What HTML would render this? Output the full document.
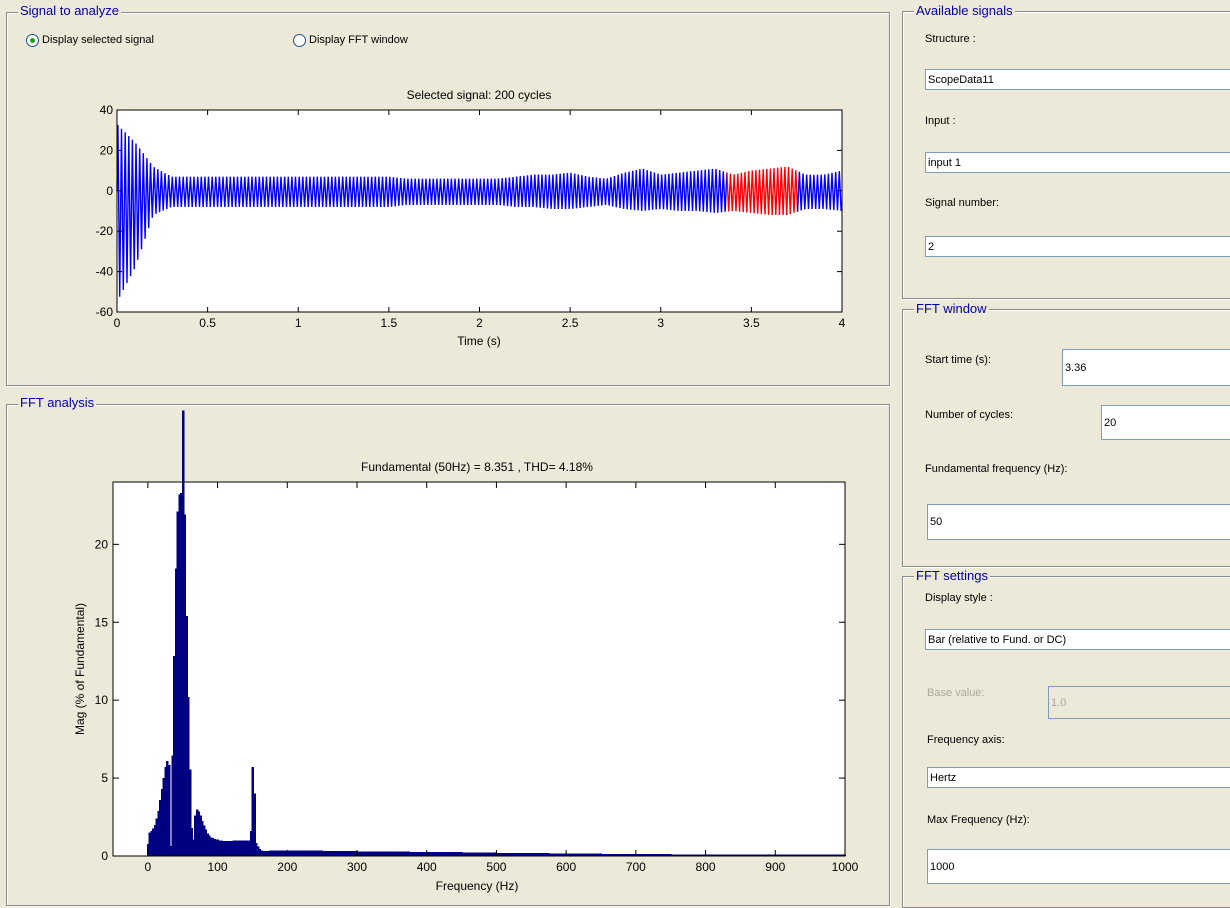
<!DOCTYPE html>
<html><head><meta charset="utf-8"><style>
body{margin:0;width:1230px;height:896px;background:#ECE9D8;position:relative;overflow:hidden;font-family:"Liberation Sans",sans-serif;font-size:11px;color:#000}
.frame{position:absolute;border:1px solid #8a8a8a;box-shadow:1px 1px 0 #fff inset,1px 1px 0 #fff}
.ftitle{position:absolute;background:#ECE9D8;color:#0000A8;font-size:13px;padding:0 2px;line-height:14px}
.lbl{position:absolute;font-size:11px;white-space:nowrap}
.box{position:absolute;background:#fff;border:1px solid #7F9DB9;box-sizing:border-box;font-size:11px;padding-left:2px;display:flex;align-items:center}
.radio{position:absolute;width:11px;height:11px;border:1px solid #1C5180;border-radius:50%;background:#fff}
svg text{font-family:"Liberation Sans",sans-serif}
</style></head><body>
<div class="frame" style="left:6px;top:12px;width:882px;height:372px"></div>
<div class="ftitle" style="left:18px;top:4px">Signal to analyze</div>
<div class="radio" style="left:26px;top:34px"><div style="position:absolute;left:3px;top:3px;width:5px;height:5px;border-radius:50%;background:#21A121"></div></div>
<div class="lbl" style="left:42px;top:34px">Display selected signal</div>
<div class="radio" style="left:293px;top:34px"></div>
<div class="lbl" style="left:309px;top:34px">Display FFT window</div>

<div class="frame" style="left:6px;top:404px;width:882px;height:500px"></div>
<div class="ftitle" style="left:18px;top:396px">FFT analysis</div>

<div class="frame" style="left:902px;top:11px;width:340px;height:286px"></div>
<div class="ftitle" style="left:914px;top:4px">Available signals</div>
<div class="lbl" style="left:925px;top:33px">Structure :</div>
<div class="box" style="left:925px;top:69px;width:320px;height:21px">ScopeData11</div>
<div class="lbl" style="left:925px;top:115px">Input :</div>
<div class="box" style="left:925px;top:152px;width:320px;height:21px">input 1</div>
<div class="lbl" style="left:925px;top:197px">Signal number:</div>
<div class="box" style="left:925px;top:236px;width:320px;height:21px">2</div>

<div class="frame" style="left:902px;top:309px;width:340px;height:256px"></div>
<div class="ftitle" style="left:914px;top:302px">FFT window</div>
<div class="lbl" style="left:925px;top:354px">Start time (s):</div>
<div class="box" style="left:1062px;top:349px;width:180px;height:37px">3.36</div>
<div class="lbl" style="left:925px;top:409px">Number of cycles:</div>
<div class="box" style="left:1101px;top:405px;width:140px;height:35px">20</div>
<div class="lbl" style="left:925px;top:463px">Fundamental frequency (Hz):</div>
<div class="box" style="left:927px;top:504px;width:315px;height:36px">50</div>

<div class="frame" style="left:902px;top:576px;width:340px;height:330px"></div>
<div class="ftitle" style="left:914px;top:569px">FFT settings</div>
<div class="lbl" style="left:925px;top:592px">Display style :</div>
<div class="box" style="left:925px;top:629px;width:320px;height:21px">Bar (relative to Fund. or DC)</div>
<div class="lbl" style="left:927px;top:687px;color:#ACA899">Base value:</div>
<div class="box" style="left:1048px;top:686px;width:190px;height:33px;background:#ECE9D8;color:#ACA899">1.0</div>
<div class="lbl" style="left:927px;top:734px">Frequency axis:</div>
<div class="box" style="left:927px;top:767px;width:315px;height:21px">Hertz</div>
<div class="lbl" style="left:927px;top:814px">Max Frequency (Hz):</div>
<div class="box" style="left:927px;top:849px;width:315px;height:35px">1000</div>

<svg id="plots" width="1230" height="896" style="position:absolute;left:0;top:0"></svg>
<script>
// ---- signal envelope data (every 0.1 s, 0..4 s) ----
const envTimes = [0,0.1,0.2,0.3,0.4,0.5,0.6,0.7,0.8,0.9,1.0,1.1,1.2,1.3,1.4,1.5,1.6,1.7,1.8,1.9,2.0,2.1,2.2,2.3,2.4,2.5,2.6,2.7,2.8,2.9,3.0,3.1,3.2,3.3,3.4,3.5,3.6,3.7,3.8,3.9,4.0];
const envUpper = [33,24,12,7,7,7,7,7,7,7,7,7,7,7,7,7,6,6,6,6,6,6,7,8,8,9,7,6,9,11,8,9,10,11,8,10,11,12,8,8,10];
const envLower = [-55,-38,-12,-8,-8,-8,-8,-8,-8,-8,-8,-8,-8,-8,-8,-8,-7,-7,-7,-7,-7,-7,-8,-8,-9,-9,-8,-7,-9,-10,-9,-10,-10,-11,-10,-11,-12,-12,-9,-9,-10];
const sigCycles = 200, fundHz = 50, winStart = 3.36, winCycles = 20;
const sigXTicks = [0,0.5,1,1.5,2,2.5,3,3.5,4];
const sigYTicks = [40,20,0,-20,-40,-60];
// ---- FFT data: 2.5 Hz bins 0..200 Hz, then 25 Hz tail 200..1000 Hz ----
const fftBinHz = 2.5;
const fftMag = [0.77,1.5,1.6,1.75,2.0,2.4,2.9,3.6,4.3,5.0,5.7,6.1,5.85,0.65,6.45,12.85,18.45,22.1,23.2,23.3,28.6,21.9,15.4,10.2,5.55,1.8,1.05,2.6,3.0,2.85,2.6,2.25,1.95,1.7,1.45,1.3,1.2,1.15,1.1,1.05,1.05,1.0,1.0,0.95,0.95,0.95,0.95,0.95,0.95,1.0,1.0,1.0,1.0,1.0,1.0,1.0,1.0,1.0,1.0,1.6,5.7,4.0,0.85,0.6,0.45,0.35,0.33,0.33,0.33,0.33,0.35,0.35,0.35,0.35,0.35,0.35,0.35,0.35,0.35,0.35];
const tailStartHz = 200, tailStepHz = 25;
const tailMag = [0.35,0.35,0.33,0.32,0.3,0.3,0.28,0.27,0.25,0.25,0.24,0.22,0.2,0.2,0.18,0.17,0.15,0.15,0.14,0.13,0.12,0.12,0.11,0.11,0.1,0.1,0.1,0.1,0.1,0.1,0.1,0.1];
const fftXTicks = [0,100,200,300,400,500,600,700,800,900,1000];
const fftYTicks = [0,5,10,15,20];

const NS='http://www.w3.org/2000/svg', svg=document.getElementById('plots');
function mk(tag,attrs,parent){const e=document.createElementNS(NS,tag);for(const k in attrs)e.setAttribute(k,attrs[k]);(parent||svg).appendChild(e);return e;}

// ---------- signal plot ----------
const S={x0:117,x1:842,y0:110,y1:312,tmin:0,tmax:4,vmin:-60,vmax:40};
const sx=t=>S.x0+(t-S.tmin)/(S.tmax-S.tmin)*(S.x1-S.x0);
const sy=v=>S.y1-(v-S.vmin)/(S.vmax-S.vmin)*(S.y1-S.y0);
const sigBg=mk('rect',{x:S.x0,y:S.y0,width:S.x1-S.x0,height:S.y1-S.y0,fill:'#fff'});


function envAt(arr,t){let i=Math.min(Math.floor(t/0.1),envTimes.length-2);const f=(t-envTimes[i])/0.1;return arr[i]+(arr[i+1]-arr[i])*f;}
let red=[],b1=[],b2=[];
for(let k=0;k<sigCycles;k++){
  const tp=(k+0.25)/fundHz, tn=(k+0.75)/fundHz;
  const p=[sx(tp).toFixed(1)+','+sy(envAt(envUpper,tp)).toFixed(1),sx(tn).toFixed(1)+','+sy(envAt(envLower,tn)).toFixed(1)];
  if(tp<winStart)b1.push(...p);else if(tp<winStart+winCycles/fundHz)red.push(...p);else b2.push(...p);
}
const start=sx(0).toFixed(1)+','+sy(0).toFixed(1);
const l1=mk('polyline',{points:start+' '+b1.join(' ')+' '+red[0],fill:'none',stroke:'#0000FF','stroke-width':1.4});


const l2=mk('polyline',{points:red.join(' '),fill:'none',stroke:'#FF0000','stroke-width':1.4});


const l3=mk('polyline',{points:red[red.length-1]+' '+b2.join(' '),fill:'none',stroke:'#0000FF','stroke-width':1.4});


const sb=mk('rect',{x:S.x0,y:S.y0,width:S.x1-S.x0,height:S.y1-S.y0,fill:'none',stroke:'#000','stroke-width':1});


sigXTicks.forEach(t=>{const x=sx(t);
  mk('line',{x1:x,x2:x,y1:S.y1,y2:S.y1-5,stroke:'#000'});mk('line',{x1:x,x2:x,y1:S.y0,y2:S.y0+5,stroke:'#000'});
  const tx=mk('text',{x:x,y:S.y1+15,'text-anchor':'middle','font-size':12});tx.textContent=String(t);
  
  });
sigYTicks.forEach(v=>{const y=sy(v);
  mk('line',{x1:S.x0,x2:S.x0+5,y1:y,y2:y,stroke:'#000'});mk('line',{x1:S.x1,x2:S.x1-5,y1:y,y2:y,stroke:'#000'});
  const tx=mk('text',{x:S.x0-4,y:y+4,'text-anchor':'end','font-size':12});tx.textContent=String(v);
  
  });
let t1=mk('text',{x:479,y:99,'text-anchor':'middle','font-size':12});t1.textContent='Selected signal: 200 cycles';


let t2=mk('text',{x:479,y:345,'text-anchor':'middle','font-size':12});t2.textContent='Time (s)';



// ---------- FFT plot ----------
const F={x0:113,x1:845,y0:482,y1:856,fmin:-50,fmax:1000,mmin:0,mmax:24};
const fx=f=>F.x0+(f-F.fmin)/(F.fmax-F.fmin)*(F.x1-F.x0);
const fy=m=>F.y1-(m-F.mmin)/(F.mmax-F.mmin)*(F.y1-F.y0);
const fbg=mk('rect',{x:F.x0,y:F.y0,width:F.x1-F.x0,height:F.y1-F.y0,fill:'#fff'});


fftMag.forEach((m,i)=>{const f=i*fftBinHz;const x=fx(f-fftBinHz/2),w=fx(f+fftBinHz/2)-x;
  const r=mk('rect',{x:x.toFixed(2),y:fy(m).toFixed(2),width:(w+0.8).toFixed(2),height:(F.y1-fy(m)).toFixed(2),fill:'#000080','shape-rendering':'crispEdges'});
  
  });
tailMag.forEach((m,i)=>{const f=tailStartHz+i*tailStepHz;const x=fx(f),w=fx(f+tailStepHz)-x;
  const r=mk('rect',{x:x.toFixed(2),y:fy(m).toFixed(2),width:(w+0.8).toFixed(2),height:(F.y1-fy(m)).toFixed(2),fill:'#000080','shape-rendering':'crispEdges'});
  
  });
const fb=mk('rect',{x:F.x0,y:F.y0,width:F.x1-F.x0,height:F.y1-F.y0,fill:'none',stroke:'#000','stroke-width':1});


fftXTicks.forEach(f=>{const x=fx(f);
  mk('line',{x1:x,x2:x,y1:F.y1,y2:F.y1-6,stroke:'#000'});mk('line',{x1:x,x2:x,y1:F.y0,y2:F.y0+6,stroke:'#000'});
  const tx=mk('text',{x:x,y:F.y1+15,'text-anchor':'middle','font-size':12});tx.textContent=String(f);
  
  });
fftYTicks.forEach(m=>{const y=fy(m);
  mk('line',{x1:F.x0,x2:F.x0+6,y1:y,y2:y,stroke:'#000'});mk('line',{x1:F.x1,x2:F.x1-6,y1:y,y2:y,stroke:'#000'});
  const tx=mk('text',{x:F.x0-5,y:y+4,'text-anchor':'end','font-size':12});tx.textContent=String(m);
  
  });
let t3=mk('text',{x:477,y:471,'text-anchor':'middle','font-size':12});t3.textContent='Fundamental (50Hz) = 8.351 , THD= 4.18%';


let t4=mk('text',{x:477,y:890,'text-anchor':'middle','font-size':12});t4.textContent='Frequency (Hz)';


let t5=mk('text',{x:84,y:669,'text-anchor':'middle','font-size':12,transform:'rotate(-90 84 669)'});t5.textContent='Mag (% of Fundamental)';


</script>
</body></html>
